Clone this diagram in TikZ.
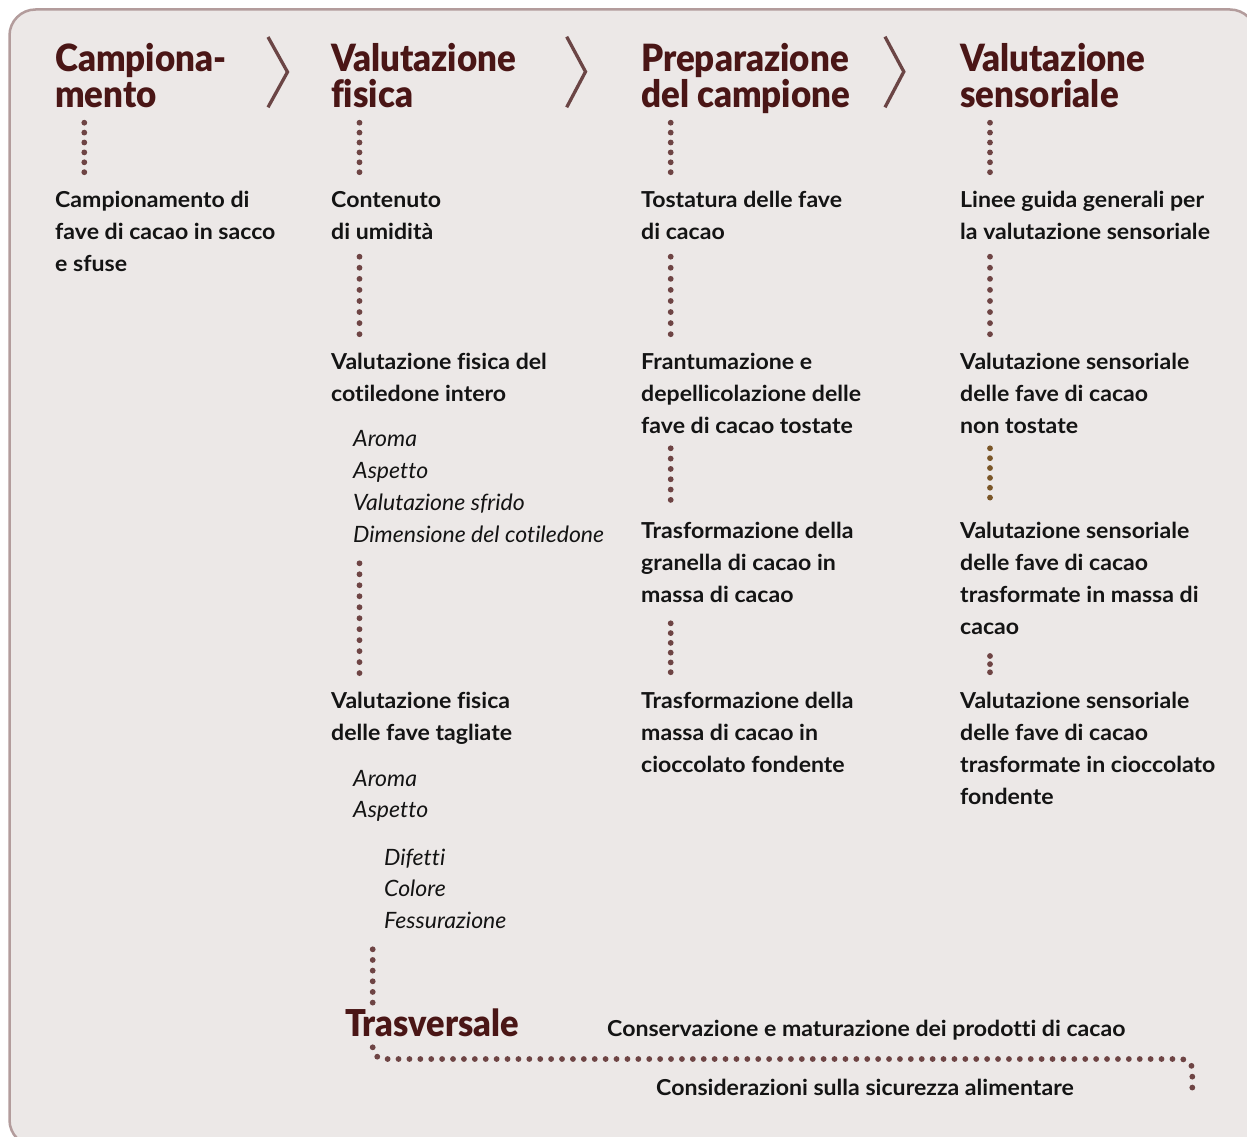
\documentclass[tikz,border=0pt]{standalone}
\usepackage{fontspec}
\setmainfont{Lato}[Ligatures=CommonOff]
\newfontfamily\headfont{Lato Black}[Ligatures=CommonOff, FakeStretch=0.93]
\newfontfamily\bodyfont{Lato Bold}[Ligatures=CommonOff, FakeStretch=1.05]
\newfontfamily\itfont{Lato Italic}[Ligatures=CommonOff, FakeStretch=1.025]
\definecolor{headc}{HTML}{4A1616}
\definecolor{bodyc}{HTML}{141414}
\definecolor{dotc}{HTML}{6E4444}
\definecolor{dotb}{HTML}{7A5628}
\definecolor{chevc}{HTML}{6B4545}
\definecolor{bgc}{HTML}{ECE8E7}
\definecolor{framec}{HTML}{B39C9C}
\newcommand\tstr[1]{\rule{0pt}{#1pt}}
\tikzset{
 head/.style={font=\headfont\fontsize{37.5}{35.5}\selectfont, text=headc, anchor=north west, inner sep=0pt, align=left},
 body/.style={font=\bodyfont\fontsize{22}{32}\selectfont, text=bodyc, anchor=north west, inner sep=0pt, align=left},
 sub/.style={font=\itfont\fontsize{22.5}{31.7}\selectfont, text=bodyc, anchor=north west, inner sep=0pt, align=left},
 dots/.style={line width=5.8pt, line cap=round, draw=dotc},
 chev/.style={line width=3.3pt, draw=chevc},
}
\begin{document}
\begin{tikzpicture}[x=1pt,y=-1pt]
\useasboundingbox (0,0) rectangle (1247,1137);
\clip (0,0) rectangle (1247,1137);
\fill[white] (0,0) rectangle (1247,1137);
\draw[fill=bgc, draw=framec, line width=2.5pt, rounded corners=26pt] (9.5,9.5) rectangle (1256,1146);

% chevrons
\draw[chev] (268,37) -- (287.5,72) -- (268,107.3);
\draw[chev] (566.7,36.7) -- (585.5,71.7) -- (566.7,107.3);
\draw[chev] (885,36.7) -- (903.8,71.7) -- (885,107.3);

% headings
\node[head] (h1) at (55,41.7) {\tstr{30}Campiona-\\mento};
\node[head] (h2) at (331,41.7) {\tstr{30}Valutazione\\fisica};
\node[head] (h3) at (641,41.7) {\tstr{30}Preparazione\\del campione};
\node[head] (h4) at (960,41.7) {\tstr{30}Valutazione\\sensoriale};

% column 1
\node[body] (a1) at (55,183) {\tstr{24}Campionamento di\\fave di cacao in sacco\\e sfuse};

% column 2
\node[body] (b1) at (331,183) {\tstr{24}Contenuto\\di umidità};
\node[body] (b2) at (331,345) {\tstr{24}Valutazione fisica del\\cotiledone intero};
\node[sub] (b2s) at (353,422.7) {\tstr{24}Aroma\\Aspetto\\Valutazione sfrido\\Dimensione del cotiledone};
\node[body] (b3) at (331,684) {\tstr{24}Valutazione fisica\\delle fave tagliate};
\node[sub] (b3s) at (353,762) {\tstr{24}Aroma\\Aspetto};
\node[sub] (b3t) at (384,841) {\tstr{24}Difetti\\Colore\\Fessurazione};

% column 3
\node[body] (c1) at (641,183) {\tstr{24}Tostatura delle fave\\di cacao};
\node[body] (c2) at (641,345) {\tstr{24}Frantumazione e\\depellicolazione delle\\fave di cacao tostate};
\node[body] (c3) at (641,514) {\tstr{24}Trasformazione della\\granella di cacao in\\massa di cacao};
\node[body] (c4) at (641,684) {\tstr{24}Trasformazione della\\massa di cacao in\\cioccolato fondente};

% column 4
\node[body] (d1) at (960,183) {\tstr{24}Linee guida generali per\\la valutazione sensoriale};
\node[body] (d2) at (960,345) {\tstr{24}Valutazione sensoriale\\delle fave di cacao\\non tostate};
\node[body] (d3) at (960,514) {\tstr{24}Valutazione sensoriale\\delle fave di cacao\\trasformate in massa di\\cacao};
\node[body] (d4) at (960,684) {\tstr{24}Valutazione sensoriale\\delle fave di cacao\\trasformate in cioccolato\\fondente};

% transversal
\node[font=\headfont\fontsize{37}{37}\selectfont, text=headc, anchor=base west, inner sep=0pt] (t0) at (345,1036) {Trasversale};
\node[font=\bodyfont\fontsize{22}{32}\selectfont, text=bodyc, anchor=base west, inner sep=0pt] (t1) at (607,1036) {Conservazione e maturazione dei prodotti di cacao};
\node[font=\bodyfont\fontsize{22}{32}\selectfont, text=bodyc, anchor=base west, inner sep=0pt] (t2) at (656,1095) {Considerazioni sulla sicurezza alimentare};

% dot coordinates
\coordinate (p1a) at (84.3,122.7);  \coordinate (p1b) at (84.3,172.3);
\coordinate (p2a) at (359.5,122.7); \coordinate (p2b) at (359.5,172.3);
\coordinate (p2c) at (359.5,256.7); \coordinate (p2d) at (359.5,334.3);
\coordinate (p2e) at (359.5,563.3); \coordinate (p2f) at (359.5,673.3);
\coordinate (p3a) at (670.7,122.7); \coordinate (p3b) at (670.7,172.3);
\coordinate (p3c) at (670.7,256.7); \coordinate (p3d) at (670.7,334.3);
\coordinate (p3e) at (670.7,448.3); \coordinate (p3f) at (670.7,500);
\coordinate (p3g) at (670.7,623.3); \coordinate (p3h) at (670.7,672.3);
\coordinate (p4a) at (990,122.7);   \coordinate (p4b) at (990,172.3);
\coordinate (p4c) at (990,256.7);   \coordinate (p4d) at (990,334.3);
\coordinate (p4e) at (990,448.3);   \coordinate (p4f) at (990,497.7);
\coordinate (p4g) at (990,656);     \coordinate (p4h) at (990,672.3);
\coordinate (q1) at (372.7,949.3);  \coordinate (q2) at (372.7,1002.7);
\coordinate (q3) at (372.7,1047.3); \coordinate (q4) at (1192.3,1059);
\coordinate (q5) at (1192.3,1093);

\draw[dots, dash pattern=on 0pt off 9.9pt] (p1a) -- (p1b);
\draw[dots, dash pattern=on 0pt off 9.9pt] (p2a) -- (p2b);
\draw[dots, dash pattern=on 0pt off 11.07pt] (p2c) -- (p2d);
\draw[dots, dash pattern=on 0pt off 10.98pt] (p2e) -- (p2f);
\draw[dots, dash pattern=on 0pt off 9.9pt] (p3a) -- (p3b);
\draw[dots, dash pattern=on 0pt off 11.07pt] (p3c) -- (p3d);
\draw[dots, dash pattern=on 0pt off 10.32pt] (p3e) -- (p3f);
\draw[dots, dash pattern=on 0pt off 9.78pt] (p3g) -- (p3h);
\draw[dots, dash pattern=on 0pt off 9.9pt] (p4a) -- (p4b);
\draw[dots, dash pattern=on 0pt off 11.07pt] (p4c) -- (p4d);
\draw[dots, draw=dotb, dash pattern=on 0pt off 9.86pt] (p4e) -- (p4f);
\draw[dots, dash pattern=on 0pt off 8.13pt] (p4g) -- (p4h);
\draw[dots, dash pattern=on 0pt off 10.66pt] (q1) -- (q2);
\draw[dots, dash pattern=on 0pt off 10.9pt, rounded corners=11pt] (q3) |- (q4) -- (q5);
\end{tikzpicture}
\end{document}
